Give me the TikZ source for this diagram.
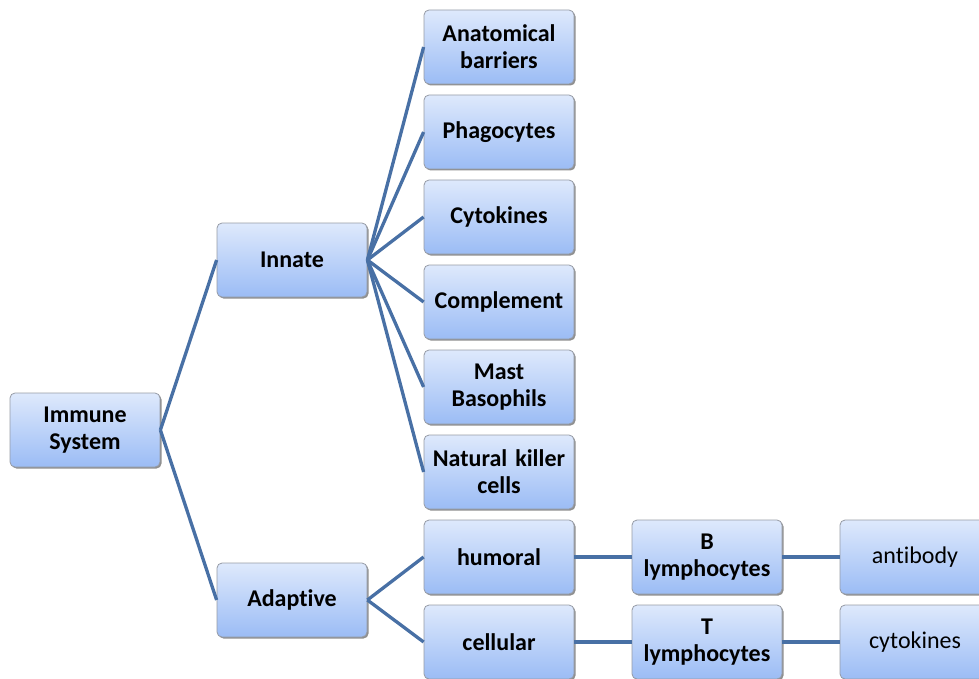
\documentclass[tikz,border=0pt]{standalone}
\usepackage{fontspec}
\setmainfont[Ligatures=NoCommon]{Carlito}
\usetikzlibrary{shadows}
\definecolor{linkc}{RGB}{72,112,165}
\definecolor{boxtop}{RGB}{222,233,252}
\definecolor{boxbot}{RGB}{155,188,245}
\definecolor{boxline}{RGB}{150,155,165}
\tikzset{
  box/.style={rectangle, rounded corners=5pt, draw=boxline, line width=0.8pt,
    top color=boxtop, bottom color=boxbot,
    drop shadow={shadow xshift=1.5pt, shadow yshift=-1.5pt, fill=black!55, opacity=0.8},
    minimum width=150pt, minimum height=74pt, text width=146pt, align=center,
    inner sep=2pt, font=\fontsize{24}{27}\selectfont\bfseries},
  plainbox/.style={box, font=\fontsize{24}{27}\selectfont},
  link/.style={draw=linkc, line width=3.3pt}
}
\begin{document}
\begin{tikzpicture}[x=1pt,y=-1pt]
\useasboundingbox (0,0) rectangle (979,679);
\node[box] (imm) at (85,430) {Immune\\System};
\node[box] (inn) at (292,260) {Innate};
\node[box] (ada) at (292,600) {Adaptive};
\node[box] (ana) at (499,47) {Anatomical\\barriers};
\node[box] (pha) at (499,132) {Phagocytes};
\node[box] (cyt) at (499,217) {Cytokines};
\node[box] (com) at (499,302) {Complement};
\node[box] (mas) at (499,387) {Mast\\Basophils};
\node[box] (nat) at (499,472) {Natural killer\\cells};
\node[box] (hum) at (499,557) {humoral};
\node[box] (cel) at (499,642) {cellular};
\node[box] (blym) at (707,557) {B\\lymphocytes};
\node[box] (tlym) at (707,642) {T\\lymphocytes};
\node[plainbox] (anti) at (915,557) {antibody};
\node[plainbox] (cyk) at (915,642) {cytokines};
\foreach \c in {inn,ada} \draw[link] (imm.east) -- (\c.west);
\foreach \c in {ana,pha,cyt,com,mas,nat} \draw[link] (inn.east) -- (\c.west);
\foreach \c in {hum,cel} \draw[link] (ada.east) -- (\c.west);
\draw[link] (hum.east) -- (blym.west);
\draw[link] (cel.east) -- (tlym.west);
\draw[link] (blym.east) -- (anti.west);
\draw[link] (tlym.east) -- (cyk.west);
\end{tikzpicture}
\end{document}
